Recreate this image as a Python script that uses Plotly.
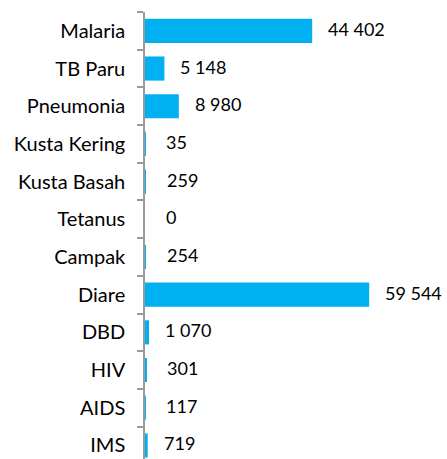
import plotly.graph_objects as go

categories = ["Malaria", "TB Paru", "Pneumonia", "Kusta Kering", "Kusta Basah", "Tetanus",
              "Campak", "Diare", "DBD", "HIV", "AIDS", "IMS"]
values = [44402, 5148, 8980, 35, 259, 0, 254, 59544, 1070, 301, 117, 719]
labels = ["44 402", "5 148", "8 980", "35", "259", "0", "254", "59 544", "1 070", "301", "117", "719"]

# plot bottom-up order
cats_r = categories[::-1]
vals_r = values[::-1]
labs_r = labels[::-1]

fig = go.Figure()
fig.add_trace(go.Bar(
    y=cats_r, x=vals_r, orientation="h",
    marker=dict(color="#00B0F0", line=dict(width=0)),
    hoverinfo="skip",
))

annotations = []
for c, v, t in zip(cats_r, vals_r, labs_r):
    annotations.append(dict(
        x=v, y=c, xref="x", yref="y", text=t, showarrow=False,
        xanchor="left", yanchor="middle", xshift=14 if v > 500 else 19, yshift=2,
        font=dict(family="Lato", size=18, color="#000000"),
    ))

fig.update_layout(
    width=447, height=459,
    margin=dict(l=145, r=0, t=12, b=0, autoexpand=False),
    paper_bgcolor="white", plot_bgcolor="white",
    bargap=0.36,
    showlegend=False,
    annotations=annotations,
    xaxis=dict(range=[0, 80200], visible=False, showgrid=False, zeroline=False,
               fixedrange=True, automargin=False),
    yaxis=dict(
        type="category",
        range=[-0.36, 11.5],
        automargin=False,
        showline=True, linecolor="#9a9a9a", linewidth=1.5,
        ticks="outside", ticklen=6, tickcolor="#9a9a9a", tickwidth=1.5,
        tickson="boundaries",
        ticklabelstandoff=14,
        tickfont=dict(family="Lato", size=20, color="#000000"),
        showgrid=False, zeroline=False, fixedrange=True,
    ),
)

fig.write_html("out.html", config={"displayModeBar": False},
               post_script="document.body.style.margin='0';document.body.style.overflow='hidden';")
